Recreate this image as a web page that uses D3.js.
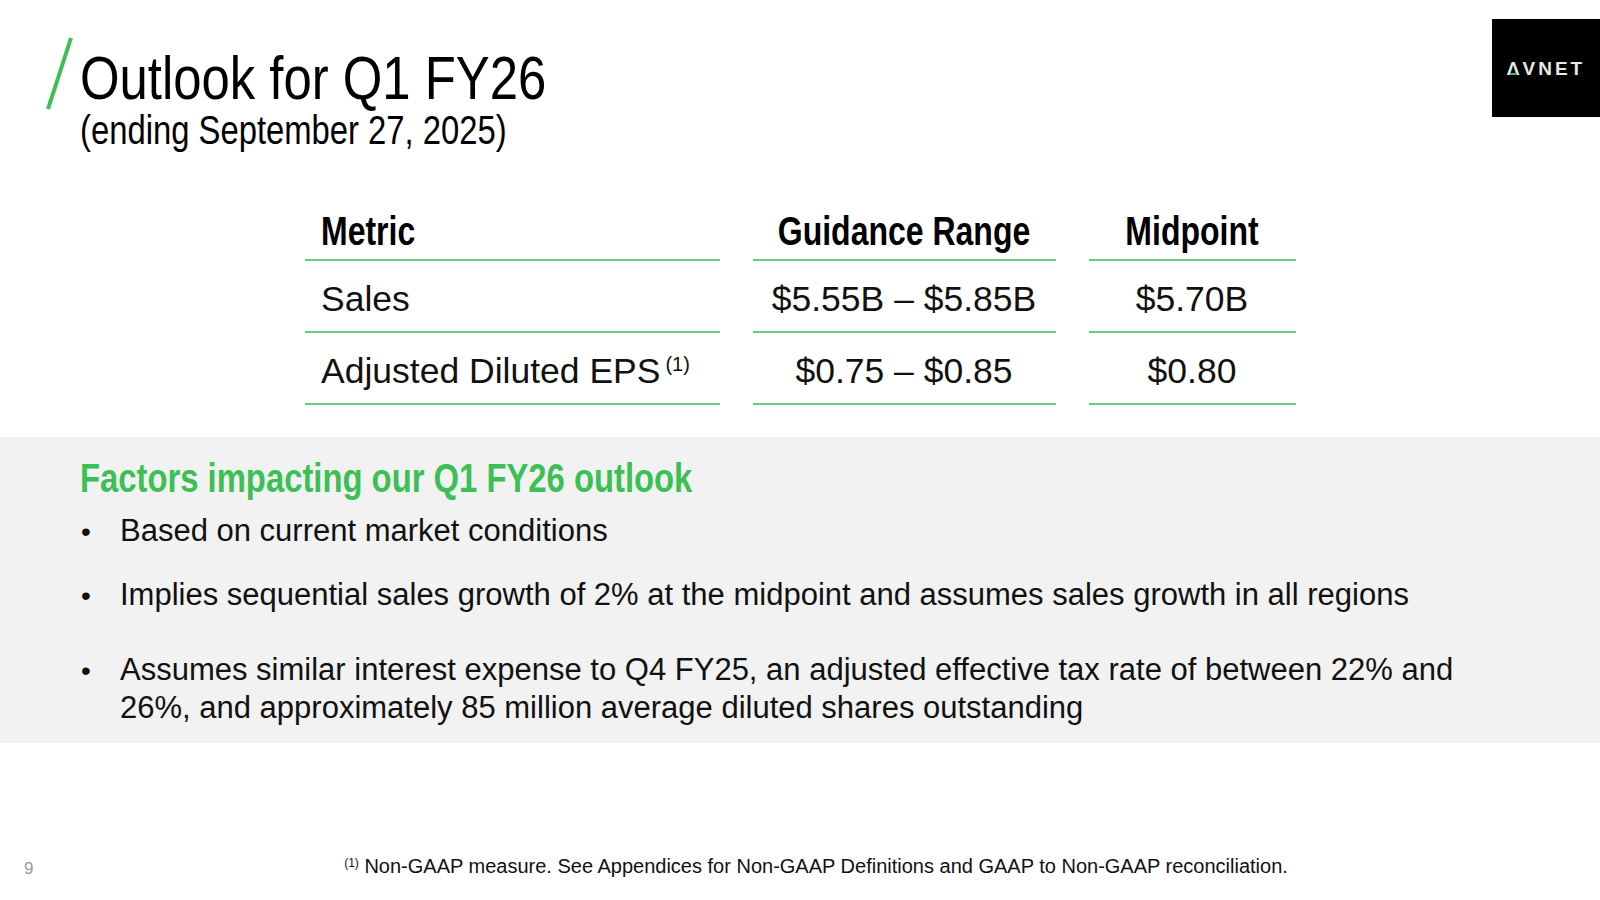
<!DOCTYPE html>
<html lang="en">
<head>
<meta charset="UTF-8">
<title>Outlook for Q1 FY26</title>
<style>
  body { margin: 0; background: #fff; }
  svg { display: block; }
  .narrow, .sans { font-family: "Liberation Sans", Arial, sans-serif; }
</style>
</head>
<body>
<div id="slide"></div>
<script src="https://d3js.org/d3.v7.min.js"></script>
<script>
  // Table content
  const columns = ['Metric', 'Guidance Range', 'Midpoint'];
  const metrics = ['Sales', 'Adjusted Diluted EPS'];
  const ranges = ['$5.55B – $5.85B', '$0.75 – $0.85'];
  const midpoints = ['$5.70B', '$0.80'];
  const factors = [
    ['Based on current market conditions'],
    ['Implies sequential sales growth of 2% at the midpoint and assumes sales growth in all regions'],
    ['Assumes similar interest expense to Q4 FY25, an adjusted effective tax rate of between 22% and',
     '26%, and approximately 85 million average diluted shares outstanding']
  ];

  const W = 1600, H = 900;
  const green = '#3cbf55';
  const svg = d3.select('#slide').append('svg').attr('width', W).attr('height', H);

  // no narrow font installed: squeeze regular Liberation Sans
  function condense(t, k) {
    const len = t.node().getComputedTextLength();
    t.attr('textLength', len * k).attr('lengthAdjust', 'spacingAndGlyphs');
    return t;
  }

  // title
  svg.append('line').attr('x1', 71).attr('y1', 38).attr('x2', 48).attr('y2', 109)
    .attr('stroke', green).attr('stroke-width', 4);
  condense(svg.append('text').attr('class', 'narrow').attr('x', 80).attr('y', 99)
    .attr('font-size', 62).attr('fill', '#000').text('Outlook for Q1 FY26'), 0.82);
  condense(svg.append('text').attr('class', 'narrow').attr('x', 80).attr('y', 144)
    .attr('font-size', 40).attr('fill', '#000').text('(ending September 27, 2025)'), 0.82);

  // logo
  const logo = svg.append('g').attr('transform', 'translate(1492,19)');
  logo.append('rect').attr('width', 108).attr('height', 98).attr('fill', '#000');
  logo.append('text').attr('class', 'sans').attr('x', 54).attr('y', 56).attr('text-anchor', 'middle')
    .attr('font-size', 19).attr('font-weight', 'bold').attr('letter-spacing', 3).attr('fill', '#e8e8e8').text('ΛVNET');
  logo.append('rect').attr('x', 18).attr('y', 54).attr('width', 7).attr('height', 2).attr('fill', green);

  // table
  const cols = [
    { x0: 305, x1: 720, anchor: 'start', tx: 321 },
    { x0: 753, x1: 1056, anchor: 'middle', tx: 904 },
    { x0: 1089, x1: 1296, anchor: 'middle', tx: 1192 }
  ];
  const lineY = d3.scaleLinear().domain([0, 2]).range([260, 404]);
  const rowBase = d3.scaleLinear().domain([0, 1]).range([311, 383]);
  const rows = metrics.map((m, i) => [m, ranges[i], midpoints[i]]);

  cols.forEach((c, ci) => {
    condense(svg.append('text').attr('class', 'narrow').attr('x', c.tx).attr('y', 245)
      .attr('text-anchor', c.anchor).attr('font-size', 40).attr('font-weight', 'bold')
      .text(columns[ci]), 0.8);
    [0, 1, 2].forEach(k => svg.append('line').attr('x1', c.x0).attr('x2', c.x1)
      .attr('y1', lineY(k)).attr('y2', lineY(k)).attr('stroke', green).attr('stroke-width', 1.5));
    rows.forEach((r, ri) => {
      const t = svg.append('text').attr('class', 'sans').attr('x', c.tx).attr('y', rowBase(ri))
        .attr('text-anchor', c.anchor).attr('font-size', 35.5).attr('fill', '#111').text(r[ci]);
      if (ci === 0 && ri === 1) {
        t.append('tspan').attr('dx', 5).attr('dy', -12).attr('font-size', 20).text('(1)');
      }
    });
  });

  // factors band
  svg.append('rect').attr('x', 0).attr('y', 437).attr('width', W).attr('height', 306).attr('fill', '#f2f2f2');
  condense(svg.append('text').attr('class', 'narrow').attr('x', 80).attr('y', 492)
    .attr('font-size', 40).attr('font-weight', 'bold').attr('fill', green)
    .text('Factors impacting our Q1 FY26 outlook'), 0.82);
  const bulletY = [541, 605, 680];
  factors.forEach((lines, i) => {
    svg.append('text').attr('class', 'sans').attr('x', 81).attr('y', bulletY[i])
      .attr('font-size', 28).attr('fill', '#111').text('•');
    lines.forEach((l, j) => svg.append('text').attr('class', 'sans').attr('x', 120)
      .attr('y', bulletY[i] + j * 38).attr('font-size', 31).attr('fill', '#111').text(l));
  });

  // footer
  svg.append('text').attr('class', 'sans').attr('x', 24).attr('y', 874)
    .attr('font-size', 17).attr('fill', '#999').text('9');
  const foot = svg.append('text').attr('class', 'sans').attr('x', 816).attr('y', 873)
    .attr('text-anchor', 'middle').attr('font-size', 20).attr('fill', '#111');
  foot.append('tspan').attr('font-size', 12).attr('dy', -6).text('(1)');
  foot.append('tspan').attr('dy', 6).text(' Non-GAAP measure. See Appendices for Non-GAAP Definitions and GAAP to Non-GAAP reconciliation.');
</script>
</body>
</html>
